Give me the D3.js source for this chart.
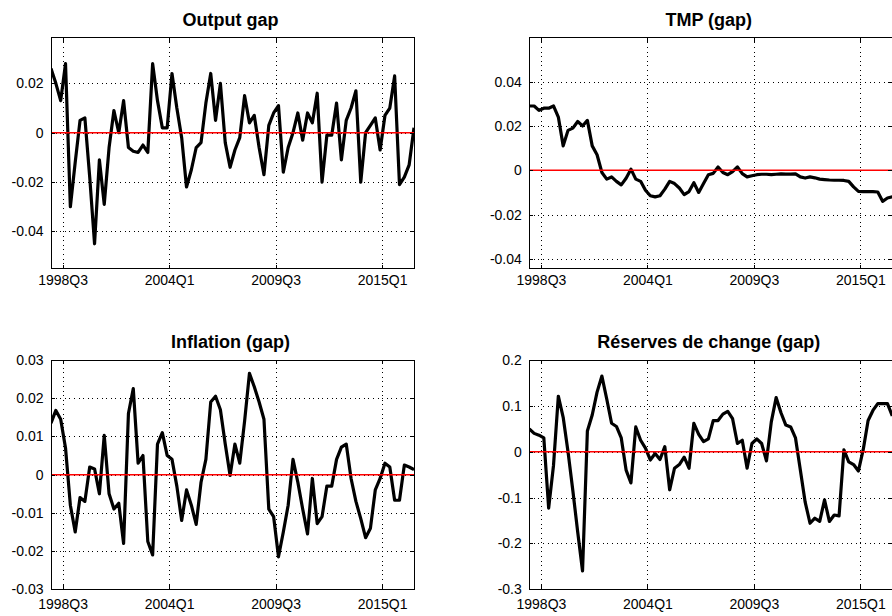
<!DOCTYPE html>
<html>
<head>
<meta charset="utf-8">
<script src="https://cdn.jsdelivr.net/npm/d3@7"></script>
<style>
  html, body { margin: 0; padding: 0; background: #fff; }
  svg { display: block; font-family: "Liberation Sans", Arial, sans-serif; }
  .tick-label text { font-size: 14px; fill: #000; }
  .title { font-size: 18px; font-weight: bold; fill: #000; }
</style>
</head>
<body>
<svg id="chart" width="892" height="616"></svg>
<script>
// Quarterly observations, 1998Q1 .. 2016Q4 (76 quarters)
const outputGap = [0.026, 0.020, 0.013, 0.028, -0.030, -0.012, 0.005, 0.006, -0.018, -0.045,
  -0.011, -0.029, -0.006, 0.009, 0.000, 0.013, -0.006, -0.0075, -0.008, -0.005,
  -0.008, 0.028, 0.013, 0.002, 0.002, 0.024, 0.010, -0.002, -0.022, -0.015,
  -0.006, -0.004, 0.012, 0.024, 0.005, 0.020, -0.004, -0.014, -0.007, -0.002,
  0.015, 0.004, 0.007, -0.006, -0.017, 0.003, 0.008, 0.011, -0.016, -0.006,
  0.000, 0.008, -0.003, 0.008, 0.004, 0.016, -0.020, -0.001, -0.001, 0.012,
  -0.011, 0.005, 0.010, 0.017, -0.020, 0.000, 0.003, 0.006, -0.007, 0.007,
  0.010, 0.023, -0.021, -0.018, -0.013, 0.002];

const tmpGap = [0.029, 0.029, 0.027, 0.028, 0.028, 0.029, 0.024, 0.011, 0.018, 0.019,
  0.022, 0.020, 0.0225, 0.011, 0.007, -0.001, -0.004, -0.003, -0.005, -0.0066,
  -0.0036, 0.0005, -0.004, -0.005, -0.009, -0.0115, -0.012, -0.0115, -0.0085, -0.005,
  -0.006, -0.008, -0.011, -0.0096, -0.0056, -0.010, -0.006, -0.002, -0.0014, 0.0015,
  -0.001, -0.002, -0.0006, 0.0015, -0.0015, -0.003, -0.0025, -0.002, -0.0018, -0.0018,
  -0.002, -0.0018, -0.0016, -0.0017, -0.0017, -0.0016, -0.003, -0.0035, -0.003, -0.0034,
  -0.004, -0.0042, -0.0044, -0.0045, -0.0045, -0.0046, -0.005, -0.0075, -0.0095, -0.0096,
  -0.0096, -0.0096, -0.0098, -0.014, -0.0125, -0.012];

const inflationGap = [0.0135, 0.0168, 0.0145, 0.007, -0.008, -0.015, -0.006, -0.007, 0.002, 0.0015,
  -0.005, 0.0103, -0.005, -0.009, -0.0075, -0.018, 0.016, 0.0225, 0.003, 0.005,
  -0.0175, -0.021, 0.008, 0.011, 0.005, 0.004, -0.003, -0.012, -0.004, -0.008,
  -0.013, -0.002, 0.004, 0.019, 0.0205, 0.017, 0.008, -0.0002, 0.008, 0.003,
  0.014, 0.0265, 0.023, 0.019, 0.0145, -0.009, -0.011, -0.0215, -0.015, -0.008,
  0.004, -0.002, -0.009, -0.0155, -0.001, -0.0128, -0.011, -0.003, -0.003, 0.004,
  0.0072, 0.008, -0.001, -0.007, -0.0115, -0.0165, -0.014, -0.004, -0.001, 0.003,
  0.002, -0.0067, -0.0067, 0.0025, 0.002, 0.0013];

const reservesGap = [0.050, 0.040, 0.036, 0.030, -0.123, -0.030, 0.121, 0.075, 0.000, -0.085,
  -0.175, -0.260, 0.045, 0.080, 0.130, 0.165, 0.115, 0.062, 0.055, 0.030,
  -0.040, -0.068, 0.054, 0.025, 0.008, -0.018, -0.004, -0.017, 0.011, -0.083,
  -0.036, -0.028, -0.012, -0.036, 0.062, 0.038, 0.022, 0.028, 0.068, 0.068,
  0.082, 0.088, 0.072, 0.018, 0.025, -0.036, 0.018, 0.028, 0.018, -0.020,
  0.065, 0.118, 0.085, 0.058, 0.054, 0.030, -0.040, -0.110, -0.156, -0.145,
  -0.152, -0.105, -0.152, -0.138, -0.140, 0.004, -0.022, -0.028, -0.042, 0.005,
  0.068, 0.090, 0.105, 0.105, 0.105, 0.078];

// Date ticks along the quarter index
const xTickPos = [2.4, 24.4, 46.4, 68.4];
const xTickLabels = ["1998Q3", "2004Q1", "2009Q3", "2015Q1"];

const titles = ["Output gap", "TMP (gap)", "Inflation (gap)", "Réserves de change (gap)"];
const yTicksOutput = [-0.04, -0.02, 0, 0.02];
const yTicksTmp = [-0.04, -0.02, 0, 0.02, 0.04];
const yTicksInflation = [-0.03, -0.02, -0.01, 0, 0.01, 0.02, 0.03];
const yTicksReserves = [-0.3, -0.2, -0.1, 0, 0.1, 0.2];

const svg = d3.select("#chart");
svg.append("rect").attr("width", 892).attr("height", 616).attr("fill", "#fff");

const W = 363;
const panels = [
  { title: titles[0], values: outputGap, yDomain: [-0.0551, 0.0385], yTicks: yTicksOutput,
    left: 51, top: 37.7, bottom: 268.7, labelPad: 6.5 },
  { title: titles[1], values: tmpGap, yDomain: [-0.0444, 0.0598], yTicks: yTicksTmp,
    left: 529.3, top: 37.7, bottom: 268.7, labelPad: 6.5 },
  { title: titles[2], values: inflationGap, yDomain: [-0.03, 0.03], yTicks: yTicksInflation,
    left: 51, top: 360, bottom: 589.3, labelPad: 9.5 },
  { title: titles[3], values: reservesGap, yDomain: [-0.3, 0.2], yTicks: yTicksReserves,
    left: 529.3, top: 360, bottom: 589.3, labelPad: 9.5 }
];

const fmt = d => String(+d.toFixed(3));

panels.forEach((p, k) => {
  const right = p.left + W;
  const x = d3.scaleLinear().domain([0, p.values.length - 1]).range([p.left, right]);
  const y = d3.scaleLinear().domain(p.yDomain).range([p.bottom, p.top]);
  const g = svg.append("g");
  const h = p.bottom - p.top;

  const clipId = "clip" + k;
  g.append("clipPath").attr("id", clipId)
    .append("rect").attr("x", p.left).attr("y", p.top).attr("width", W).attr("height", h);

  // dotted grid
  const gridX = g.append("g").attr("transform", `translate(0,${p.bottom})`)
    .call(d3.axisBottom(x).tickValues(xTickPos).tickSize(-h).tickFormat(""));
  const gridY = g.append("g").attr("transform", `translate(${p.left},0)`)
    .call(d3.axisLeft(y).tickValues(p.yTicks).tickSize(-W).tickFormat(""));
  [gridX, gridY].forEach(a => {
    a.select(".domain").remove();
    a.selectAll("line").attr("stroke", "#000").attr("stroke-width", 1)
      .attr("stroke-dasharray", "1,3.6").attr("shape-rendering", "crispEdges");
  });

  // series
  const line = d3.line().x((d, i) => x(i)).y(d => y(d));
  g.append("path").datum(p.values)
    .attr("clip-path", `url(#${clipId})`)
    .attr("fill", "none").attr("stroke", "#000").attr("stroke-width", 3.2)
    .attr("stroke-linejoin", "round")
    .attr("d", line);

  // zero reference line
  g.append("line")
    .attr("x1", p.left).attr("x2", right)
    .attr("y1", y(0)).attr("y2", y(0))
    .attr("stroke", "#ff0000").attr("stroke-width", 1.5);

  // inward tick marks on all four sides
  const tickLen = 4;
  const marks = [
    [d3.axisBottom(x).tickValues(xTickPos), `translate(0,${p.bottom})`],
    [d3.axisTop(x).tickValues(xTickPos), `translate(0,${p.top})`],
    [d3.axisLeft(y).tickValues(p.yTicks), `translate(${p.left},0)`],
    [d3.axisRight(y).tickValues(p.yTicks), `translate(${right},0)`]
  ];
  marks.forEach(([ax, tr]) => {
    const a = g.append("g").attr("transform", tr)
      .call(ax.tickSize(-tickLen).tickFormat(""));
    a.select(".domain").remove();
    a.selectAll("line").attr("stroke", "#000").attr("shape-rendering", "crispEdges");
  });

  // frame
  g.append("rect")
    .attr("x", p.left).attr("y", p.top).attr("width", W).attr("height", h)
    .attr("fill", "none").attr("stroke", "#000").attr("stroke-width", 1)
    .attr("shape-rendering", "crispEdges");

  // tick labels
  const xl = g.append("g").attr("class", "tick-label")
    .attr("transform", `translate(0,${p.bottom})`)
    .call(d3.axisBottom(x).tickValues(xTickPos).tickSize(0).tickPadding(p.labelPad)
      .tickFormat((d, i) => xTickLabels[i]));
  const yl = g.append("g").attr("class", "tick-label")
    .attr("transform", `translate(${p.left},0)`)
    .call(d3.axisLeft(y).tickValues(p.yTicks).tickSize(0).tickPadding(7.5).tickFormat(fmt));
  [xl, yl].forEach(a => {
    a.select(".domain").remove();
    a.attr("font-family", null).attr("font-size", null);
  });

  // title
  g.append("text").attr("class", "title")
    .attr("x", (p.left + right) / 2 - 2).attr("y", p.top - 12)
    .attr("text-anchor", "middle")
    .text(p.title);
});
</script>
</body>
</html>
